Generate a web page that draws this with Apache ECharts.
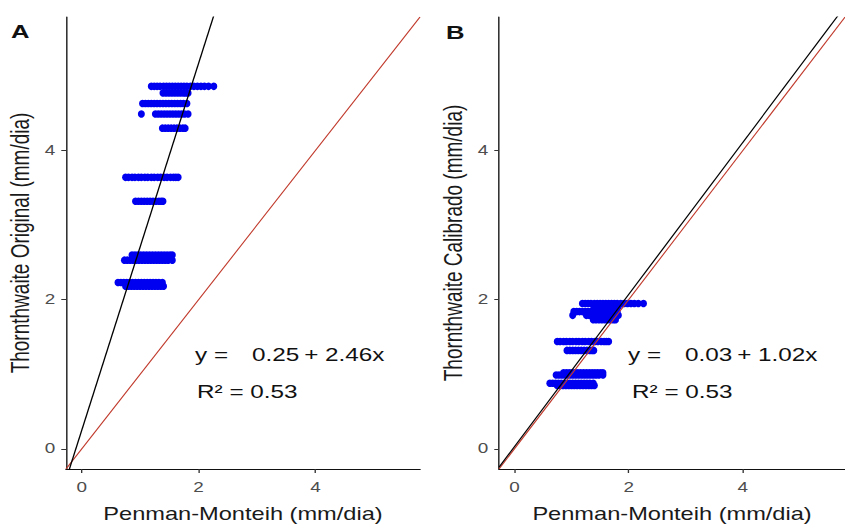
<!DOCTYPE html>
<html>
<head>
<meta charset="utf-8">
<script src="https://cdn.jsdelivr.net/npm/echarts@6.0.0/dist/echarts.min.js"></script>
<style>
    html, body { margin: 0; padding: 0; background: #fff; overflow: hidden; }
    /* the original picture is stretched sideways, so the chart is drawn narrow and widened */
    #main { width: 626px; height: 528px; transform: scaleX(1.35); transform-origin: 0 0; }
</style>
</head>
<body>
<div id="main"></div>
<script>
var stretch = 1.35;

// Penman-Monteih values (mm/dia) of each monthly group
var penman = [
    [1.19,1.24,1.29,1.34,1.40,1.45,1.50,1.55,1.60,1.65,1.70,1.75,1.80,1.86,1.92,1.98,2.04,2.10,2.17,2.26],
    [1.39,1.44,1.49,1.54,1.59,1.64,1.69,1.74,1.78,1.82],
    [1.04,1.09,1.14,1.19,1.24,1.29,1.34,1.39,1.44,1.49,1.54,1.59,1.64,1.69,1.74,1.80],
    [1.02,1.26,1.31,1.36,1.41,1.46,1.51,1.56,1.61,1.66,1.71,1.76,1.82],
    [1.38,1.43,1.48,1.53,1.58,1.63,1.68,1.73,1.77],
    [0.75,0.80,0.86,0.91,0.97,1.02,1.08,1.13,1.19,1.24,1.30,1.35,1.41,1.46,1.52,1.57,1.61,1.65],
    [0.92,0.97,1.02,1.07,1.12,1.17,1.22,1.27,1.32,1.36,1.39],
    [0.86,0.91,0.96,1.01,1.06,1.11,1.16,1.21,1.26,1.31,1.36,1.41,1.46,1.51,1.55],
    [0.73,0.78,0.83,0.88,0.93,0.98,1.03,1.08,1.13,1.18,1.23,1.28,1.33,1.38,1.43,1.48,1.55],
    [0.62,0.67,0.72,0.77,0.82,0.87,0.92,0.97,1.02,1.07,1.12,1.17,1.22,1.27,1.32,1.38],
    [0.75,0.80,0.85,0.90,0.95,1.00,1.05,1.10,1.15,1.20,1.25,1.30,1.35,1.40]
];
// Thornthwaite of the same groups
var thornOriginal = [4.86, 4.77, 4.63, 4.49, 4.30, 3.64, 3.32, 2.60, 2.53, 2.23, 2.18];
var thornCalibrado = [1.95, 1.91, 1.84, 1.79, 1.73, 1.44, 1.32, 1.02, 0.99, 0.88, 0.85];

var tickValues = [0, 2, 4];
var axisMin = -0.27;
var axisMax = 5.79;

// intercept, slope
var fitA = [0.25, 2.46];
var fitB = [0.03, 1.02];
var r2 = 0.53;

function points(ys) {
    var pts = [];
    for (var i = 0; i < penman.length; i++) {
        for (var j = 0; j < penman[i].length; j++) {
            pts.push([penman[i][j], ys[i]]);
        }
    }
    return pts;
}

function fitLine(fit) {
    return [[axisMin, fit[0] + fit[1] * axisMin], [axisMax, fit[0] + fit[1] * axisMax]];
}

function xAxis(idx) {
    return {
        gridIndex: idx, type: 'value', min: axisMin, max: axisMax,
        name: 'Penman-Monteih (mm/dia)', nameLocation: 'middle', nameGap: 36,
        nameTextStyle: { fontFamily: 'Liberation Sans', fontSize: 17.5, color: '#1a1a1a' },
        splitLine: { show: false },
        axisLine: { onZero: false, lineStyle: { color: '#111', width: 1.2 } },
        axisTick: { customValues: tickValues, length: 4, lineStyle: { color: '#333' } },
        axisLabel: { customValues: tickValues, margin: 11, fontFamily: 'Liberation Sans', fontSize: 14, color: '#4d4d4d' }
    };
}

function yAxis(idx, title) {
    return {
        gridIndex: idx, type: 'value', min: axisMin, max: axisMax,
        name: title, nameLocation: 'middle', nameGap: 24,
        nameTextStyle: { fontFamily: 'Liberation Sans', fontSize: 19, color: '#1a1a1a' },
        splitLine: { show: false },
        axisLine: { onZero: false, lineStyle: { color: '#111', width: 1 } },
        axisTick: { customValues: tickValues, length: 3.5, lineStyle: { color: '#333' } },
        axisLabel: { customValues: tickValues, margin: 8, fontFamily: 'Liberation Sans', fontSize: 14, color: '#4d4d4d' }
    };
}

function label(x, y, txt, size, bold) {
    return {
        type: 'text', x: x / stretch, y: y,
        style: { text: txt, fontFamily: 'Liberation Sans', fontSize: size, fontWeight: bold ? 'bold' : 'normal',
                 fill: '#111', textVerticalAlign: 'middle' }
    };
}

var myChart = echarts.init(document.getElementById('main'), null, { renderer: 'svg' });
var option = {
    animation: false,
    backgroundColor: '#fff',
    grid: [
        { left: 66 / stretch, top: 17, width: 354 / stretch, height: 453 },
        { left: 499 / stretch, top: 17, width: 354 / stretch, height: 453 }
    ],
    xAxis: [xAxis(0), xAxis(1)],
    yAxis: [yAxis(0, 'Thornthwaite Original (mm/dia)'), yAxis(1, 'Thornthwaite Calibrado (mm/dia)')],
    series: [
        { type: 'scatter', xAxisIndex: 0, yAxisIndex: 0, data: points(thornOriginal),
          symbolSize: [7 / stretch, 7.5], itemStyle: { color: '#0000f0', opacity: 1 } },
        { type: 'line', xAxisIndex: 0, yAxisIndex: 0, data: fitLine([0, 1]), showSymbol: false, clip: true,
          lineStyle: { color: '#c0392b', width: 0.9 } },
        { type: 'line', xAxisIndex: 0, yAxisIndex: 0, data: fitLine(fitA), showSymbol: false, clip: true,
          lineStyle: { color: '#000', width: 1 } },
        { type: 'scatter', xAxisIndex: 1, yAxisIndex: 1, data: points(thornCalibrado),
          symbolSize: [7 / stretch, 7.5], itemStyle: { color: '#0000f0', opacity: 1 } },
        { type: 'line', xAxisIndex: 1, yAxisIndex: 1, data: fitLine([0, 1]), showSymbol: false, clip: true,
          lineStyle: { color: '#c0392b', width: 0.9 } },
        { type: 'line', xAxisIndex: 1, yAxisIndex: 1, data: fitLine(fitB), showSymbol: false, clip: true,
          lineStyle: { color: '#000', width: 1 } }
    ],
    graphic: [
        label(11, 32, 'A', 19, true),
        label(446, 33, 'B', 19, true),
        label(195, 355, 'y =', 18),
        label(252, 355, fitA[0].toFixed(2) + '\u2009+ ' + fitA[1].toFixed(2) + 'x', 18),
        label(197, 392, 'R² = ' + r2.toFixed(2), 18),
        label(628, 355, 'y =', 18),
        label(685, 355, fitB[0].toFixed(2) + '\u2009+ ' + fitB[1].toFixed(2) + 'x', 18),
        label(632, 392, 'R² = ' + r2.toFixed(2), 18)
    ]
};
myChart.setOption(option);
</script>
</body>
</html>
